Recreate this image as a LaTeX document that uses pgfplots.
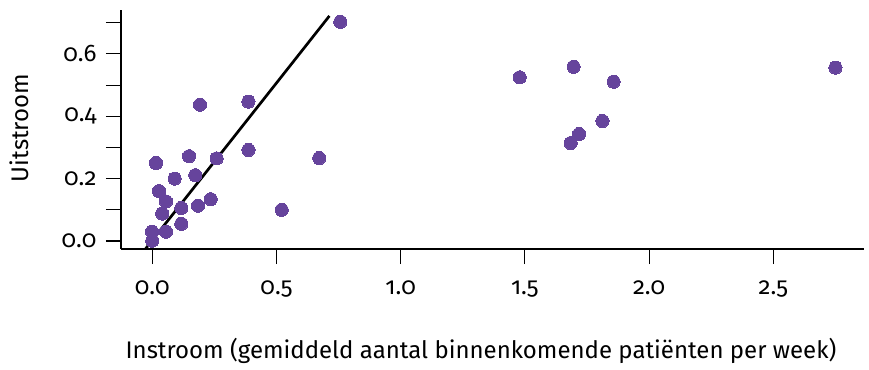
\documentclass[border=0pt]{standalone}
\usepackage{fontspec}
\setmainfont{Fira Sans}[Numbers=OldStyle]
\usepackage{pgfplots}
\pgfplotsset{compat=1.18}
\definecolor{dotpurple}{RGB}{102,68,156}
\begin{document}
\begin{tikzpicture}
\path[use as bounding box] (0,0) rectangle (869bp,370bp);
\begin{axis}[
  at={(121bp,121bp)}, anchor=south west,
  width=743bp, height=239bp, scale only axis,
  xmin=-0.126, xmax=2.865, ymin=-0.0257, ymax=0.741,
  axis lines=left, axis line style={-, line width=1.3bp},
  tick align=outside, major tick length=15bp, minor tick length=15bp,
  tick style={line width=1.1bp, black},
  xtick={0,0.5,1,1.5,2,2.5},
  xticklabels={0.0,0.5,1.0,1.5,2.0,2.5},
  ytick={0,0.2,0.4,0.6},
  yticklabels={0.0,0.2,0.4,0.6},
  minor ytick={0.1,0.3,0.5,0.7},
  /pgf/number format/assume math mode=true,
  tick label style={font=\fontsize{24bp}{28bp}\selectfont},
  xticklabel style={anchor=base, yshift=-30bp},
  yticklabel style={anchor=east, xshift=-6bp},
  label style={font=\fontsize{24bp}{28bp}\selectfont},
  xlabel={Instroom (gemiddeld aantal binnenkomende patiënten per week)},
  ylabel={Uitstroom},
  xlabel style={at={(axis description cs:0.4845,-0.46)}, anchor=base},
  ylabel style={at={(axis description cs:-0.125,0.506)}, anchor=base},
  clip=false,
]
\addplot[dotpurple, only marks, mark=*, mark size=6.6bp, mark options={fill=dotpurple, draw=dotpurple, line width=0pt}] coordinates {
(0.757,0.703) (0.192,0.437) (0.387,0.447) (0.387,0.292) (0.672,0.266)
(0.148,0.272) (0.259,0.265) (0.015,0.250) (0.173,0.211) (0.090,0.200)
(0.027,0.160) (0.055,0.127) (0.235,0.134) (0.184,0.113) (0.117,0.106)
(0.040,0.088) (0.521,0.100) (0.117,0.055) (-0.001,0.030) (0.055,0.030)
(0.000,0.001)
(1.479,0.525) (1.696,0.559) (1.857,0.511) (1.812,0.385) (1.718,0.343)
(1.684,0.314) (2.750,0.556)
};
\addplot[black, line width=2.7bp] coordinates {(-0.027,-0.025) (0.713,0.722)};
\end{axis}
\end{tikzpicture}
\end{document}
